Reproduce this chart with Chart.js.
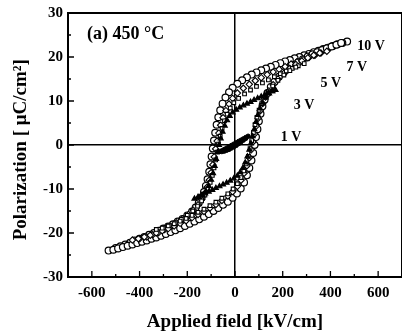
<!DOCTYPE html>
<html>
<head>
<meta charset="utf-8">
<script src="https://cdn.jsdelivr.net/npm/chart.js@4/dist/chart.umd.min.js"></script>
<style>
  body { margin: 0; background: #fff; }
  canvas { display: block; }
</style>
</head>
<body>
<canvas id="loops" width="402" height="334"></canvas>
<script>
// P-E loops, field in kV/cm, polarization in uC/cm2, [E, P] pairs
const voltages = ['1 V', '3 V', '5 V', '7 V', '10 V'];

const loop1Down = [[55,2.0],[45,1.7],[35,1.4],[25,1.1],[15,0.8],[5,0.5],[-5,0.2],[-15,-0.1],[-25,-0.4],[-35,-0.7],[-45,-1.0],[-55,-1.3],[-65,-1.5]];
const loop1Up = [[-55,-1.5],[-45,-1.4],[-35,-1.2],[-25,-1.0],[-15,-0.7],[-5,-0.4],[5,-0.1],[15,0.3],[25,0.7],[35,1.1],[45,1.5]];

const loop3Down = [[170,12.5],[155,12.2],[140,11.8],[125,11.4],[110,11.0],[95,10.6],[80,10.2],[65,9.8],[50,9.4],[35,9.0],[20,8.5],[5,8.0],[-10,7.4],[-22,6.6],[-33,5.6],[-43,4.4],[-52,3.0],[-60,1.5],[-67,0.0],[-73,-1.6],[-79,-3.2],[-85,-4.8],[-92,-6.4],[-100,-7.9],[-110,-9.3],[-122,-10.5],[-136,-11.4],[-150,-11.9],[-170,-12.2]];
const loop3Up = [[-155,-11.8],[-140,-11.4],[-125,-11.0],[-110,-10.6],[-95,-10.2],[-80,-9.8],[-65,-9.4],[-50,-9.0],[-35,-8.6],[-20,-8.1],[-5,-7.6],[10,-7.0],[22,-6.2],[33,-5.2],[43,-4.0],[52,-2.6],[60,-1.1],[67,0.4],[74,2.0],[81,3.6],[88,5.2],[96,6.8],[105,8.3],[116,9.6],[129,10.8],[143,11.7],[157,12.2]];

const loop5Down = [[290,18.5],[265,18.0],[240,17.4],[215,16.8],[190,16.2],[165,15.5],[140,14.8],[115,14.1],[90,13.3],[65,12.5],[40,11.6],[15,10.6],[-5,9.6],[-20,8.4],[-33,7.0],[-44,5.5],[-54,3.8],[-62,2.0],[-69,0.2],[-75,-1.6],[-81,-3.4],[-88,-5.2],[-95,-6.9],[-104,-8.5],[-114,-10.0],[-126,-11.4],[-140,-12.7],[-157,-13.9],[-177,-15.0],[-200,-16.0],[-225,-16.9],[-250,-17.7],[-275,-18.3],[-300,-18.8],[-330,-19.2]];
const loop5Up = [[-305,-18.9],[-280,-18.4],[-255,-17.9],[-230,-17.3],[-205,-16.7],[-180,-16.0],[-155,-15.3],[-130,-14.6],[-105,-13.8],[-80,-13.0],[-55,-12.1],[-30,-11.1],[-8,-10.0],[10,-8.8],[25,-7.4],[37,-5.9],[47,-4.3],[56,-2.6],[63,-0.8],[70,1.0],[77,2.8],[84,4.6],[92,6.3],[101,7.9],[112,9.4],[125,10.8],[140,12.1],[158,13.4],[180,14.7],[205,15.9],[230,16.9],[255,17.7]];

const loop7Down = [[385,21.3],[360,20.9],[335,20.4],[310,19.9],[285,19.4],[260,18.9],[235,18.4],[210,17.8],[185,17.2],[160,16.6],[135,16.0],[110,15.3],[85,14.6],[60,13.8],[35,12.9],[10,11.8],[-10,10.6],[-25,9.3],[-38,7.8],[-50,6.2],[-60,4.5],[-68,2.7],[-75,0.9],[-81,-0.9],[-87,-2.7],[-93,-4.5],[-100,-6.3],[-108,-8.0],[-117,-9.6],[-128,-11.1],[-140,-12.4],[-155,-13.6],[-175,-14.8],[-195,-15.8],[-220,-16.8],[-245,-17.7],[-270,-18.5],[-295,-19.2],[-320,-19.9],[-345,-20.4],[-370,-20.9],[-400,-21.3],[-430,-21.6]];
const loop7Up = [[-405,-21.3],[-380,-20.9],[-355,-20.5],[-330,-20.0],[-305,-19.5],[-280,-19.0],[-255,-18.4],[-230,-17.8],[-205,-17.2],[-180,-16.5],[-155,-15.8],[-130,-15.1],[-105,-14.3],[-80,-13.5],[-55,-12.6],[-30,-11.6],[-10,-10.6],[10,-9.4],[25,-8.0],[38,-6.4],[50,-4.7],[60,-2.9],[68,-1.1],[75,0.7],[82,2.5],[89,4.3],[97,6.1],[106,7.8],[116,9.4],[128,10.9],[142,12.3],[160,13.7],[180,15.0],[205,16.3],[230,17.4],[255,18.3],[280,19.1],[305,19.8],[330,20.4],[355,20.9]];

const loop10Down = [[470,23.5],[450,23.2],[430,22.9],[410,22.5],[390,22.1],[370,21.8],[350,21.4],[330,21.1],[310,20.7],[290,20.4],[270,20.0],[250,19.7],[230,19.3],[210,19.0],[190,18.6],[170,18.2],[150,17.8],[130,17.4],[110,17.0],[90,16.5],[70,16.0],[50,15.4],[30,14.7],[10,13.9],[-10,13.0],[-25,12.0],[-40,10.8],[-52,9.4],[-62,7.9],[-70,6.3],[-77,4.6],[-83,2.8],[-88,1.0],[-93,-0.8],[-98,-2.6],[-103,-4.4],[-108,-6.1],[-115,-7.8],[-122,-9.3],[-130,-10.7],[-140,-12.0],[-152,-13.2],[-165,-14.2],[-180,-15.1],[-200,-16.0],[-220,-16.8],[-240,-17.4],[-260,-18.0],[-280,-18.5],[-300,-19.0],[-320,-19.5],[-340,-20.0],[-360,-20.4],[-380,-20.9],[-400,-21.3],[-420,-21.7],[-440,-22.2],[-460,-22.6],[-480,-23.0],[-500,-23.4],[-530,-24.0]];
const loop10Up = [[-510,-23.8],[-490,-23.5],[-470,-23.2],[-450,-22.9],[-430,-22.6],[-410,-22.3],[-390,-22.0],[-370,-21.7],[-350,-21.3],[-330,-21.0],[-310,-20.6],[-290,-20.2],[-270,-19.8],[-250,-19.4],[-230,-18.9],[-210,-18.4],[-190,-17.9],[-170,-17.4],[-150,-16.9],[-130,-16.3],[-110,-15.7],[-90,-15.0],[-70,-14.3],[-50,-13.6],[-30,-12.9],[-10,-12.0],[8,-11.0],[24,-9.9],[38,-8.5],[50,-6.9],[60,-5.2],[69,-3.5],[76,-1.8],[82,0.0],[88,1.8],[94,3.6],[100,5.4],[107,7.1],[115,8.8],[124,10.3],[136,11.8],[150,13.2],[166,14.4],[184,15.5],[204,16.5],[225,17.4],[245,18.1],[265,18.8],[285,19.5],[305,20.1],[325,20.6],[345,21.1],[365,21.6],[385,22.0],[405,22.4],[425,22.8],[445,23.2]];

const xTicks = [-600, -400, -200, 0, 200, 400, 600];
const yTicks = [-30, -20, -10, 0, 10, 20, 30];

function pts(down, up) {
    return down.concat(up).map(function(p) { return {x: p[0], y: p[1]}; });
}

var serif = 'Liberation Serif, Times New Roman, serif';

// box, inner ticks and the text labels
var framePlugin = {
    id: 'frame',
    afterDraw: function(chart) {
        var ctx = chart.ctx, a = chart.chartArea;
        var xs = chart.scales.x, ys = chart.scales.y;
        ctx.save();
        ctx.strokeStyle = '#000';
        ctx.lineWidth = 2;
        ctx.strokeRect(a.left, a.top, a.right - a.left, a.bottom - a.top);
        ctx.lineWidth = 1.3;
        ctx.beginPath();
        xs.ticks.forEach(function(t) {
            var px = xs.getPixelForValue(t.value);
            var len = xTicks.indexOf(t.value) >= 0 ? 6 : 3;
            ctx.moveTo(px, a.bottom); ctx.lineTo(px, a.bottom - len);
        });
        ys.ticks.forEach(function(t) {
            var py = ys.getPixelForValue(t.value);
            var len = yTicks.indexOf(t.value) >= 0 ? 6 : 3;
            ctx.moveTo(a.left, py); ctx.lineTo(a.left + len, py);
        });
        ctx.stroke();

        ctx.fillStyle = '#000';
        ctx.textBaseline = 'middle';
        ctx.textAlign = 'left';
        ctx.font = 'bold 18px ' + serif;
        ctx.fillText('(a) 450 °C', xs.getPixelForValue(-620), ys.getPixelForValue(25.2));

        var spots = {'10 V': [512, 22.3], '7 V': [467, 17.7], '5 V': [358, 14.1], '3 V': [246, 8.9], '1 V': [192, 1.8]};
        ctx.font = 'bold 14px ' + serif;
        voltages.forEach(function(v) {
            ctx.fillText(v, xs.getPixelForValue(spots[v][0]), ys.getPixelForValue(spots[v][1]));
        });
        ctx.restore();
    }
};

function zeroLine(c) {
    return c.tick && c.tick.value === 0 ? '#000' : 'rgba(0,0,0,0)';
}

new Chart(document.getElementById('loops'), {
    type: 'scatter',
    data: {
        datasets: [
            { label: voltages[0], data: pts(loop1Down, loop1Up), pointStyle: 'circle', pointRadius: 2.2, backgroundColor: '#000', borderColor: '#000', borderWidth: 1 },
            { label: voltages[1], data: pts(loop3Down, loop3Up), pointStyle: 'triangle', pointRadius: 2.8, backgroundColor: '#000', borderColor: '#000', borderWidth: 1.2 },
            { label: voltages[2], data: pts(loop5Down, loop5Up), pointStyle: 'rect', pointRadius: 2.6, backgroundColor: '#fff', borderColor: '#000', borderWidth: 1.1 },
            { label: voltages[3], data: pts(loop7Down, loop7Up), pointStyle: 'rectRot', pointRadius: 3.2, backgroundColor: '#fff', borderColor: '#000', borderWidth: 1.1 },
            { label: voltages[4], data: pts(loop10Down, loop10Up), pointStyle: 'circle', pointRadius: 3.4, backgroundColor: '#fff', borderColor: '#000', borderWidth: 1.2 }
        ]
    },
    options: {
        responsive: false,
        animation: false,
        layout: { autoPadding: false, padding: { top: 13, right: -2, left: 0, bottom: 0 } },
        plugins: { legend: { display: false }, tooltip: { enabled: false } },
        scales: {
            x: {
                min: -700, max: 700,
                afterFit: function(s) { s.height = 57; s.paddingLeft = 0; s.paddingRight = 0; },
                ticks: {
                    stepSize: 100,
                    autoSkip: false,
                    maxRotation: 0,
                    padding: 7,
                    color: '#000',
                    font: { family: serif, size: 15, weight: 'bold' },
                    callback: function(v) { return xTicks.indexOf(v) >= 0 ? String(v) : ''; }
                },
                grid: { color: zeroLine, lineWidth: 1.5, drawTicks: false },
                border: { display: false },
                title: {
                    display: true,
                    text: 'Applied field [kV/cm]',
                    color: '#000',
                    padding: { top: 0, bottom: 1 },
                    font: { family: serif, size: 19, weight: 'bold' }
                }
            },
            y: {
                min: -30, max: 30,
                afterFit: function(s) { s.width = 68; s.paddingTop = 0; s.paddingBottom = 0; },
                ticks: {
                    stepSize: 5,
                    autoSkip: false,
                    padding: 5,
                    color: '#000',
                    font: { family: serif, size: 15, weight: 'bold' },
                    callback: function(v) { return yTicks.indexOf(v) >= 0 ? String(v) : ''; }
                },
                grid: { color: zeroLine, lineWidth: 1.5, drawTicks: false },
                border: { display: false },
                title: {
                    display: true,
                    text: 'Polarization [ μC/cm²]  ',
                    color: '#000',
                    padding: { top: 10, bottom: 0 },
                    font: { family: serif, size: 19, weight: 'bold' }
                }
            }
        }
    },
    plugins: [framePlugin]
});
</script>
</body>
</html>
